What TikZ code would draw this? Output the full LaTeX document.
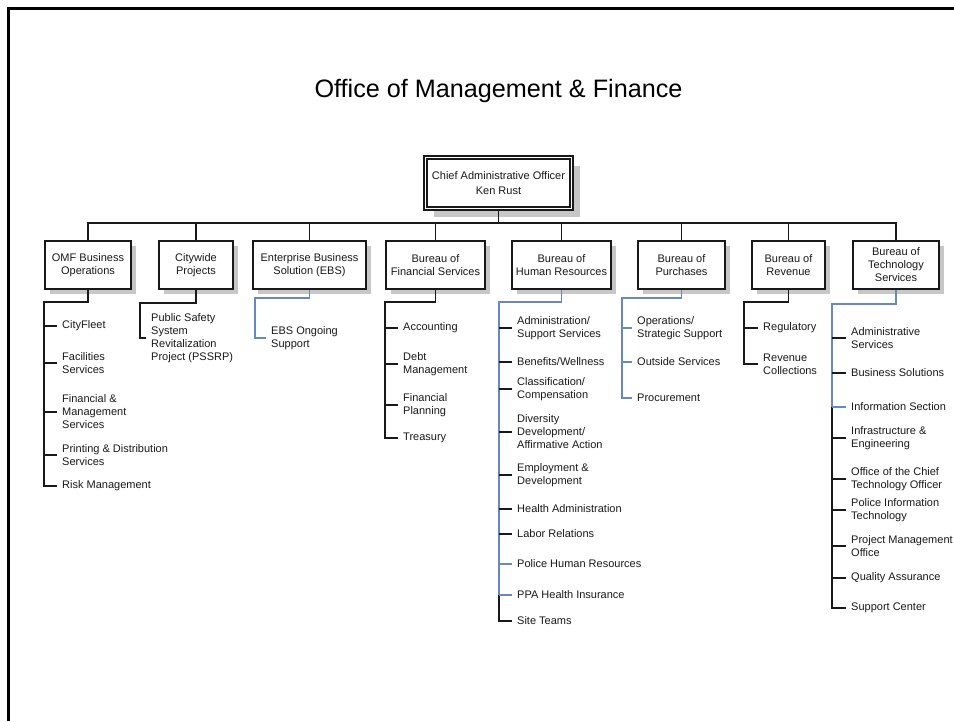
\documentclass[tikz,border=0pt]{standalone}
\usepackage{fontspec}
\setmainfont{Liberation Sans}
\usepackage{xcolor}
\usetikzlibrary{shadows}
\definecolor{linkblue}{RGB}{104,136,196}
\tikzstyle{unit} = [draw=black!90, line width=2pt, fill=white,
rectangle, align=center, minimum height=47.5pt, inner sep=2pt,
font=\fontsize{11}{13}\selectfont, text=black!90,
drop shadow={shadow xshift=5pt, shadow yshift=-5pt, fill=black!22, opacity=1}]
\tikzstyle{chief} = [draw=black!90, double=white, double distance=1.8pt,
line width=1.5pt, fill=white, rectangle, align=center,
font=\fontsize{11}{15}\selectfont, text=black!90,
drop shadow={shadow xshift=8pt, shadow yshift=-8pt, fill=black!22, opacity=1}]
\tikzstyle{item} = [anchor=west, align=left, inner xsep=5pt, inner ysep=1pt,
font=\fontsize{11}{13}\selectfont, text=black!90]
\tikzstyle{link} = [draw=black!90, line width=1.7pt]
\tikzstyle{bluelink} = [draw=linkblue, line width=1.7pt]

\begin{document}
\begin{tikzpicture}[x=1pt, y=-1pt]
    \useasboundingbox (0,0) rectangle (954,721);
    \draw[line width=3pt, black] (954,8.5) -- (8.5,8.5) -- (8.5,721);

    \node[font=\fontsize{25.2}{29}\selectfont, anchor=base] (title) at (498.5,97)
        {Office of Management \& Finance};

    \node[chief, minimum width=146pt, minimum height=51pt] (cao) at (498.5,183)
        {Chief Administrative Officer\\Ken Rust};

    % bureaus
    \node[unit, minimum width=86pt] (omf) at (88,265) {OMF Business\\Operations};
    \node[unit, minimum width=74pt] (city) at (196,265) {Citywide\\Projects};
    \node[unit, minimum width=113pt] (ebs) at (309.5,265) {Enterprise Business\\Solution (EBS)};
    \node[unit, minimum width=99pt] (bfs) at (435.5,265) {Bureau of\\Financial Services};
    \node[unit, minimum width=99pt] (bhr) at (561.5,265) {Bureau of\\Human Resources};
    \node[unit, minimum width=87pt] (bop) at (681.5,265) {Bureau of\\Purchases};
    \node[unit, minimum width=73pt] (brev) at (788.5,265) {Bureau of\\Revenue};
    \node[unit, minimum width=86pt] (bts) at (896,265) {Bureau of\\Technology\\Services};

    \foreach \unit in {omf,city,ebs,bfs,bhr,bop,brev,bts}
        \draw[link] (cao.south) -- ++(0,13.5) -| (\unit.north);

    % OMF Business Operations
    \coordinate (omfs) at (44,302);
    \foreach \y/\txt [count=\i] in {326/CityFleet, 363/Facilities\\Services,
        412/{Financial \&\\Management\\Services}, 455/{Printing \& Distribution\\Services},
        486/Risk Management}
        \node[item] (omf\i) at (57,\y) {\txt};
    \draw[link] (omf.south) |- (omfs) -- (omfs |- omf5.west) -- (omf5.west);
    \foreach \i in {1,...,4}
        \draw[link] (omfs |- omf\i.west) -- (omf\i.west);

    % Citywide Projects
    \coordinate (citys) at (140,303);
    \node[item] (city1) at (146,338) {Public Safety\\System\\Revitalization\\Project (PSSRP)};
    \draw[link] (city.south) |- (citys) -- (citys |- city1.west) -- (city1.west);

    % EBS
    \coordinate (ebss) at (255,298);
    \node[item] (ebs1) at (266,338) {EBS Ongoing\\Support};
    \draw[bluelink] (ebs.south) |- (ebss) -- (ebss |- ebs1.west) -- (ebs1.west);

    % Financial Services
    \coordinate (bfss) at (385,302);
    \foreach \y/\txt [count=\i] in {328/Accounting, 364/Debt\\Management,
        405/Financial\\Planning, 438/Treasury}
        \node[item] (bfs\i) at (398,\y) {\txt};
    \draw[link] (bfs.south) |- (bfss) -- (bfss |- bfs4.west) -- (bfs4.west);
    \foreach \i in {1,...,3}
        \draw[link] (bfss |- bfs\i.west) -- (bfs\i.west);

    % Human Resources
    \coordinate (bhrs) at (499,302);
    \foreach \y/\txt [count=\i] in {328/{Administration/\\Support Services},
        362/{Benefits/Wellness}, 389/{Classification/\\Compensation},
        432/{Diversity\\Development/\\Affirmative Action}, 475/{Employment \&\\Development},
        509/Health Administration, 534/Labor Relations, 564/Police Human Resources,
        595/PPA Health Insurance, 621/Site Teams}
        \node[item] (bhr\i) at (512,\y) {\txt};
    \draw[bluelink] (bhr.south) |- (bhrs) -- (bhrs |- bhr9.west);
    \draw[link] (bhrs |- bhr9.west) -- (bhrs |- bhr10.west) -- (bhr10.west);
    \foreach \i in {1,...,7}
        \draw[link] (bhrs |- bhr\i.west) -- (bhr\i.west);
    \foreach \i in {8,9}
        \draw[bluelink] (bhrs |- bhr\i.west) -- (bhr\i.west);

    % Purchases
    \coordinate (bops) at (622,298);
    \foreach \y/\txt [count=\i] in {328/{Operations/\\Strategic Support},
        362/Outside Services, 398/Procurement}
        \node[item] (bop\i) at (632,\y) {\txt};
    \draw[bluelink] (bop.south) |- (bops) -- (bops |- bop3.west) -- (bop3.west);
    \foreach \i in {1,2}
        \draw[bluelink] (bops |- bop\i.west) -- (bop\i.west);

    % Revenue
    \coordinate (brevs) at (744,302);
    \foreach \y/\txt [count=\i] in {328/Regulatory, 364/Revenue\\Collections}
        \node[item] (brev\i) at (758,\y) {\txt};
    \draw[link] (brev.south) |- (brevs) -- (brevs |- brev2.west) -- (brev2.west);
    \draw[link] (brevs |- brev1.west) -- (brev1.west);

    % Technology Services
    \coordinate (btss) at (832,304);
    \foreach \y/\txt [count=\i] in {338/Administrative\\Services, 373/Business Solutions,
        407/Information Section, 438/{Infrastructure \&\\Engineering},
        479/Office of the Chief\\Technology Officer, 510/Police Information\\Technology,
        546/Project Management\\Office, 578/Quality Assurance, 608/Support Center}
        \node[item] (bts\i) at (846,\y) {\txt};
    \draw[bluelink] (bts.south) |- (btss) -- (btss |- bts3.west);
    \draw[link] (btss |- bts3.west) -- (btss |- bts9.west) -- (bts9.west);
    \draw[bluelink] (btss |- bts3.west) -- (bts3.west);
    \foreach \i in {1,2,4,5,6,7,8}
        \draw[link] (btss |- bts\i.west) -- (bts\i.west);
\end{tikzpicture}
\end{document}
